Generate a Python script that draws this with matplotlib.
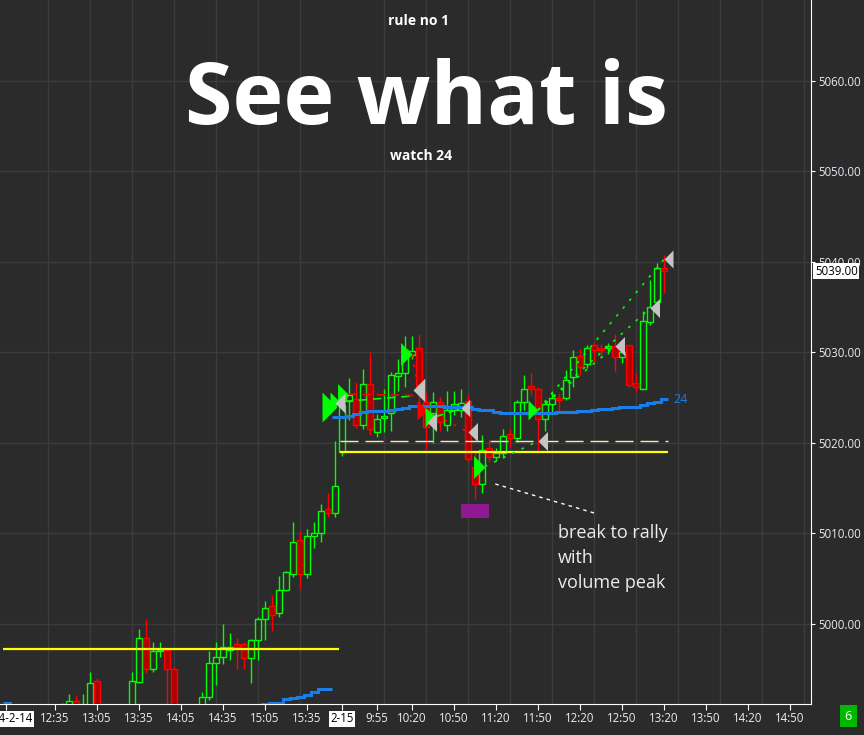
import numpy as np
import matplotlib.pyplot as plt
from matplotlib.transforms import blended_transform_factory

plt.rcParams['font.family'] = ['Open Sans', 'DejaVu Sans']

# 5 minute bars, index 0 = 2024-02-15 09:30, negative = 2024-02-14 session
bars = np.arange(-48, 47)
opens = [4988.6, 4989.2, 4989.9, 4989.3, 4988.8, 4989.6, 4990.1, 4989.5,
         4989.8, 4990.2, 4991.5, 4989.9, 4990.6, 4993.7, 4989.4, 4988.2,
         4988.9, 4989.8, 4990.5, 4993.6, 4998.45, 4995.0, 4997.0, 4997.1,
         4995.0, 4990.0, 4988.6, 4989.5, 4990.5, 4991.9, 4995.7, 4996.35,
         4997.1, 4997.8, 4997.8, 4996.2, 4998.2, 5000.55, 5002.0, 5001.2,
         5003.75, 5005.5, 5009.3, 5005.5, 5009.7, 5010.05, 5012.7, 5012.3,
         5019.0, 5024.6, 5024.9, 5022.0, 5026.5, 5021.2, 5022.8, 5023.3,
         5027.4, 5027.7, 5029.7, 5030.5, 5024.5, 5023.3, 5024.5, 5022.0,
         5023.65, 5023.65, 5024.6, 5017.4, 5015.5, 5019.5, 5018.4, 5018.9,
         5020.95, 5020.5, 5024.5, 5026.3, 5026.0, 5022.7, 5024.3, 5025.0,
         5024.95, 5027.3, 5029.6, 5028.7, 5030.8, 5030.5, 5030.5, 5030.7,
         5029.45, 5030.8, 5026.6, 5026.0, 5033.4, 5035.6, 5039.3]
highs = [4989.8, 4990.3, 4990.6, 4990.2, 4989.9, 4990.5, 4990.8, 4990.4,
         4991.3, 4992.3, 4992.2, 4992.3, 4994.7, 4994.0, 4990.6, 4989.5,
         4990.4, 4991.0, 4994.7, 4999.45, 5000.55, 4998.0, 4998.0, 4997.3,
         4995.3, 4990.8, 4990.0, 4990.9, 4992.5, 4997.0, 4998.0, 5000.0,
         4999.0, 4998.45, 4998.0, 4998.3, 5000.8, 5002.55, 5003.2, 5005.3,
         5005.85, 5011.3, 5010.3, 5010.5, 5011.3, 5013.26, 5014.5, 5020.2,
         5025.0, 5027.2, 5026.7, 5028.2, 5030.0, 5023.2, 5026.0, 5027.8,
         5029.3, 5031.8, 5031.8, 5032.0, 5025.5, 5025.6, 5025.1, 5025.8,
         5025.8, 5026.0, 5025.3, 5019.2, 5020.9, 5020.3, 5019.5, 5021.5,
         5021.6, 5024.75, 5027.5, 5027.7, 5026.2, 5024.6, 5025.7, 5025.5,
         5028.1, 5030.3, 5030.4, 5030.8, 5031.0, 5030.9, 5031.1, 5032.0,
         5030.3, 5030.8, 5027.7, 5034.6, 5038.0, 5039.9, 5040.8]
lows = [4988.0, 4988.7, 4988.9, 4988.4, 4988.1, 4989.0, 4989.2, 4988.9,
        4989.4, 4989.8, 4989.9, 4989.4, 4990.2, 4988.6, 4987.6, 4987.3,
        4988.2, 4989.3, 4990.0, 4993.5, 4994.6, 4994.7, 4996.35, 4990.5,
        4989.0, 4988.0, 4988.2, 4989.0, 4990.2, 4991.6, 4993.3, 4995.6,
        4996.0, 4995.0, 4995.0, 4993.5, 4996.0, 4998.2, 4999.2, 5000.8,
        5003.7, 5005.2, 5003.9, 5005.1, 5008.4, 5009.06, 5011.8, 5011.8,
        5018.6, 5022.5, 5021.7, 5021.6, 5020.9, 5020.7, 5021.2, 5021.3,
        5025.8, 5026.2, 5029.3, 5023.0, 5019.3, 5020.0, 5021.3, 5021.3,
        5023.1, 5022.9, 5018.0, 5013.8, 5014.5, 5017.9, 5018.0, 5018.3,
        5019.6, 5020.1, 5023.65, 5025.3, 5018.9, 5021.3, 5023.3, 5023.5,
        5024.7, 5026.2, 5027.5, 5028.25, 5029.0, 5029.4, 5029.8, 5027.8,
        5028.8, 5026.2, 5025.6, 5026.0, 5033.0, 5035.4, 5036.6]
closes = [4989.2, 4989.9, 4989.3, 4988.8, 4989.6, 4990.1, 4989.5, 4989.8,
          4990.9, 4991.5, 4990.4, 4990.9, 4993.5, 4989.4, 4988.2, 4988.9,
          4989.8, 4990.5, 4993.7, 4998.45, 4995.0, 4997.0, 4997.1, 4995.0,
          4990.0, 4988.6, 4989.5, 4990.5, 4991.95, 4995.7, 4996.35, 4997.45,
          4997.45, 4997.45, 4996.2, 4998.2, 5000.55, 5001.8, 5001.0, 5003.75,
          5005.75, 5009.05, 5005.5, 5009.7, 5010.05, 5012.5, 5012.3, 5015.25,
          5024.2, 5025.3, 5022.0, 5026.5, 5021.5, 5022.7, 5023.0, 5027.5,
          5027.7, 5030.3, 5030.2, 5026.3, 5021.8, 5024.5, 5022.3, 5023.6,
          5024.3, 5024.4, 5018.2, 5015.5, 5019.2, 5018.5, 5018.9, 5020.8,
          5020.5, 5024.5, 5026.0, 5026.0, 5022.7, 5024.3, 5024.95, 5024.7,
          5027.0, 5029.5, 5028.4, 5030.5, 5030.3, 5030.3, 5030.7, 5029.5,
          5030.1, 5026.4, 5026.2, 5033.5, 5035.0, 5039.3, 5039.0]

# "24" line, one value per bar (day 1 runs to bar -2, day 2 from bar -1)
ema1_bars = np.arange(-48, -1)
ema1 = [4991.24, 4990.9, 4990.8, 4990.7, 4990.6, 4990.6, 4990.5, 4990.5,
        4990.5, 4990.4, 4990.4, 4990.4, 4990.3, 4990.3, 4990.3, 4990.3,
        4990.3, 4990.3, 4990.4, 4990.4, 4990.4, 4990.5, 4990.5, 4990.5,
        4990.6, 4990.6, 4990.6, 4990.7, 4990.7, 4990.8, 4990.8, 4990.9,
        4990.9, 4991.0, 4991.0, 4991.1, 4991.1, 4991.2, 4991.31, 4991.31,
        4991.68, 4991.79, 4991.97, 4992.12, 4992.45, 4992.78, 4992.78]
ema2_bars = np.arange(-1, 47)
ema2 = [5022.91, 5022.91, 5023.02, 5023.17, 5023.39, 5023.57, 5023.50, 5023.50,
        5023.61, 5023.72, 5023.90, 5024.12, 5024.12, 5024.12, 5024.12, 5024.12,
        5024.01, 5024.01, 5023.94, 5023.94, 5023.72, 5023.61, 5023.61, 5023.46,
        5023.35, 5023.35, 5023.35, 5023.35, 5023.35, 5023.35, 5023.35, 5023.35,
        5023.43, 5023.43, 5023.43, 5023.57, 5023.57, 5023.65, 5023.76, 5023.76,
        5023.83, 5024.01, 5024.01, 5024.01, 5024.20, 5024.39, 5024.56, 5024.86]

# trade markers
entry_x = [-0.7, -0.3, 0.95, 10.0, 12.1, 13.3, 20.4, 28.0]
entry_y = [5024.0, 5024.5, 5025.3, 5029.8, 5023.65, 5022.9, 5017.35, 5023.65]
entry_side = ['long', 'long', 'long', 'long', 'short', 'long', 'long', 'long']
entry_size = [21.6, 14.4, 16.5, 16.5, 14.4, 14.4, 16.5, 14.4]
exit_x = [-1.0, 10.1, 12.1, 17.0, 18.0, 28.0, 39.0, 44.0, 46.0]
exit_y = [5024.4, 5025.9, 5022.3, 5023.9, 5021.2, 5020.2, 5030.7, 5034.9, 5040.3]
exit_size = [14.4, 17.0, 13.7, 12.5, 13.7, 13.7, 13.7, 13.7, 13.0]

# trade connection lines
trade_x0 = [0.4, 0.9, 10.0, 12.1, 13.3, 20.4, 28.0, 28.0, 28.0]
trade_y0 = [5024.6, 5025.4, 5029.8, 5023.65, 5022.9, 5017.4, 5023.65, 5023.65, 5023.65]
trade_x1 = [10.1, 10.3, 10.8, 18.0, 17.0, 28.0, 39.0, 44.0, 46.0]
trade_y1 = [5025.2, 5025.25, 5026.3, 5021.2, 5023.8, 5020.2, 5030.7, 5034.9, 5040.3]
trade_win = [True, False, False, False, True, True, True, True, True]
trade_dash = ['dash', 'dash', 'dot', 'dot', 'dash', 'dot', 'dot', 'dot', 'dot']

# levels
level_day1 = 4997.25
level_day2 = 5019.04
level_dashed = 5020.2

tick_pos = [-48, -41, -35, -29, -23, -17, -11, -5, 0, 5, 10, 16, 22, 28, 34, 40,
            46, 52, 58, 64]
tick_lbl = ['2024-2-14', '12:35', '13:05', '13:35', '14:05', '14:35', '15:05',
            '15:35', '2-15', '9:55', '10:20', '10:50', '11:20', '11:50', '12:20',
            '12:50', '13:20', '13:50', '14:20', '14:50']
grid_pos = np.arange(-42, 67, 6)

bg = '#2b2b2b'
fig = plt.figure(figsize=(8.64, 7.35), dpi=100, facecolor=bg)
ax = fig.add_axes([0, 31 / 735, 811 / 864, 704 / 735], facecolor=bg)
ax.set_xlim(-48.86, 67.0)
ax.set_ylim(4991.16, 5068.95)

# candles
o = np.array(opens); h = np.array(highs); l = np.array(lows); c = np.array(closes)
up = c >= o
wick_col = np.where(up, '#00ff00', '#ff0000')
ax.vlines(bars, l, h, colors=wick_col, lw=1, zorder=2)
body_lo = np.minimum(o, c)
body_h = np.maximum(np.abs(c - o), 0.05)
ax.bar(bars[up], body_h[up], bottom=body_lo[up], width=0.72,
       facecolor=bg, edgecolor='#00ff00', lw=1, zorder=3)
ax.bar(bars[~up], body_h[~up], bottom=body_lo[~up], width=0.72,
       facecolor='#b00000', edgecolor='#ff0000', lw=1, zorder=3)

# 24 line
ax.stairs(ema1, np.append(ema1_bars - 0.5, ema1_bars[-1] + 0.5), baseline=None,
          color='#1a7ee6', lw=2.2, zorder=4)
ax.stairs(ema2, np.append(ema2_bars - 0.5, ema2_bars[-1] + 0.5), baseline=None,
          color='#1a7ee6', lw=2.2, zorder=4)
ax.text(47.3, ema2[-1], '24', color='#1a7ee6', fontsize=9, va='center', ha='left')

# levels
ax.hlines(level_day1, -48.4, -0.4, color='#ffff00', lw=1.6, zorder=5)
ax.hlines(level_day2, -0.3, 46.5, color='#ffff00', lw=1.6, zorder=5)
ax.hlines(level_dashed, -0.3, 46.5, color='#eeeeb0', lw=1, linestyles=(0, (13, 5)), zorder=5)

# trade lines
for x0, y0, x1, y1, win, d in zip(trade_x0, trade_y0, trade_x1, trade_y1, trade_win, trade_dash):
    pat = (0, (5, 3.5)) if d == 'dash' else (0, (1.6, 4.5))
    ax.plot([x0, x1], [y0, y1], color='#00ff00' if win else '#ff0000', lw=1.2,
            ls=pat, zorder=6)

# markers
right_tri = [(0, 0), (-1, 1), (-1, -1), (0, 0)]
left_tri = [(0, 0), (1, 1), (1, -1), (0, 0)]
for x, y, side, s in zip(entry_x, entry_y, entry_side, entry_size):
    ax.plot(x, y, marker=right_tri, ms=s, mew=0, ls='none',
            color='#00ff00' if side == 'long' else '#ff0000', zorder=7)
for x, y, s in zip(exit_x, exit_y, exit_size):
    ax.plot(x, y, marker=left_tri, ms=s, mew=0, ls='none', color='#c4c4c4', zorder=8)

# volume peak and note
ax.fill_between([17, 21], 5011.75, 5013.25, color='#901890', lw=0, zorder=5)
ax.plot([21.9, 36.0], [5015.47, 5012.27], color='white', lw=1, ls=(0, (2.5, 3)), zorder=6)
ax.text(30.86, 5011.0, 'break to rally\nwith\nvolume peak', color='#ececec',
        fontsize=13, va='top', ha='left', linespacing=1.5)

# axes styling
for s in ['left', 'top']:
    ax.spines[s].set_visible(False)
ax.spines['right'].set_color('white')
ax.spines['bottom'].set_color('white')
ax.yaxis.tick_right()
ax.set_yticks(np.arange(5000, 5061, 10))
ax.yaxis.set_major_formatter(plt.FormatStrFormatter('%.2f'))
ax.tick_params(axis='y', colors='white', labelcolor='#e4eaf4', length=3, pad=2, labelsize=8.3)
ax.set_xticks(tick_pos)
ax.set_xticklabels(tick_lbl)
ax.set_xticks(grid_pos, minor=True)
ax.tick_params(axis='x', which='major', colors='white', labelcolor='#eeeeee', length=4,
               pad=2, labelsize=8.3)
ax.tick_params(axis='x', which='minor', length=0)
ax.grid(True, which='minor', axis='x', color='#3c3c3c', lw=1)
ax.grid(True, which='major', axis='y', color='#3c3c3c', lw=1)
ax.set_axisbelow(True)
for t in ax.get_xticklabels():
    if '-' in t.get_text():
        t.set_color('black')
        t.set_bbox(dict(facecolor='white', edgecolor='none', pad=1.2))

# last price tag
tr = blended_transform_factory(ax.transAxes, ax.transData)
ax.text(1.0 + 4 / 811, closes[-1], f'{closes[-1]:.2f}', transform=tr, color='black',
        fontsize=8.3, va='center', ha='left', clip_on=False, zorder=10,
        bbox=dict(facecolor='white', edgecolor='none', pad=1.2))

# headline
fig.text(419 / 864, 1 - 21 / 735, 'rule no 1', color='white', fontsize=10,
         fontweight='bold', ha='center', va='center')
fig.text(426 / 864, 1 - 124 / 735, 'See what is', color='white', fontsize=62,
         fontweight='bold', ha='center', va='baseline')
fig.text(421 / 864, 1 - 156 / 735, 'watch 24', color='white', fontsize=10,
         fontweight='bold', ha='center', va='center')

# bar count badge
fig.text(848 / 864, 1 - 716 / 735, '6', color='white', fontsize=9, ha='center', va='center',
         bbox=dict(facecolor='#00b800', edgecolor='none', pad=3.5))

fig.savefig('out.png', dpi=100, facecolor=bg)
